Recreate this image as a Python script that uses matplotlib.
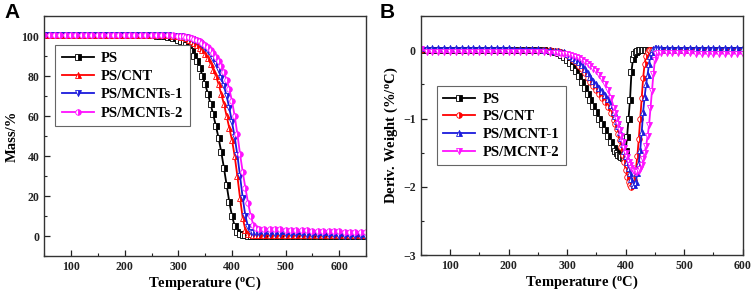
import numpy as np
import matplotlib
matplotlib.use('Agg')
import matplotlib.pyplot as plt
from matplotlib.ticker import MultipleLocator

plt.rcParams['font.family'] = 'Liberation Serif'
plt.rcParams['font.weight'] = 'bold'
plt.rcParams['mathtext.fontset'] = 'custom'
plt.rcParams['mathtext.rm'] = 'Liberation Serif:bold'
plt.rcParams['mathtext.it'] = 'Liberation Serif:bold'
plt.rcParams['mathtext.bf'] = 'Liberation Serif:bold'

# ---- panel A: TGA mass loss ----
temp_a = [50, 60, 70, 80, 90, 100, 110, 120, 130, 140, 150, 160, 170, 180, 190,
          200, 210, 220, 230, 240, 250, 260, 270, 280, 290, 300,
          305, 310, 315, 320, 325, 330, 335, 340, 345, 350, 355, 360, 365, 370,
          375, 380, 385, 390, 395, 400, 405, 410, 415, 420, 425, 430, 435, 440,
          445, 450,
          460, 470, 480, 490, 500, 510, 520, 530, 540, 550, 560, 570, 580, 590,
          600, 610, 620, 630, 640, 650]

mass_ps = [100.4, 100.4, 100.4, 100.4, 100.4, 100.4, 100.4, 100.4, 100.4, 100.4,
           100.4, 100.4, 100.4, 100.4, 100.4, 100.4, 100.4, 100.4, 100.4, 100.4,
           100.3, 100.2, 100.0, 99.7, 99.1, 98.2,
           97.5, 96.6, 95.5, 94.0, 92.3, 90.2, 87.4, 84.0, 80.2, 76.0, 71.2, 66.0,
           60.8, 55.0, 49.0, 42.0, 34.0, 25.5, 17.0, 10.0, 5.0, 2.2, 0.9, 0.4,
           0.3, 0.2, 0.2, 0.1, 0.1, 0.1,
           0.1, 0.1, 0.0, 0.0, 0.0, 0.0, 0.0, 0.0, 0.0, 0.0, 0.0, 0.0, 0.0, 0.0,
           -0.1, -0.1, -0.1, -0.1, -0.1, -0.1]

mass_cnt = [100.4, 100.4, 100.4, 100.4, 100.4, 100.4, 100.4, 100.4, 100.4, 100.4,
            100.4, 100.4, 100.4, 100.4, 100.4, 100.4, 100.4, 100.4, 100.4, 100.4,
            100.4, 100.4, 100.3, 100.3, 100.1, 99.8,
            99.6, 99.3, 98.8, 98.2, 97.4, 96.5, 95.5, 94.2, 92.8, 91.0, 89.0, 86.2,
            83.2, 80.0, 76.0, 71.0, 66.0, 60.0, 54.0, 48.0, 40.0, 30.0, 19.0, 9.0,
            3.0, 1.2, 0.8, 0.6, 0.5, 0.5,
            0.5, 0.5, 0.5, 0.4, 0.4, 0.4, 0.4, 0.4, 0.4, 0.4, 0.4, 0.3, 0.3, 0.3,
            0.3, 0.3, 0.3, 0.3, 0.3, 0.3]

mass_mcnt1 = [100.5, 100.5, 100.5, 100.5, 100.5, 100.5, 100.5, 100.5, 100.5, 100.5,
              100.5, 100.5, 100.5, 100.5, 100.5, 100.5, 100.5, 100.5, 100.5, 100.5,
              100.5, 100.4, 100.4, 100.3, 100.1, 99.9,
              99.8, 99.6, 99.3, 99.0, 98.5, 98.0, 97.3, 96.4, 95.3, 94.0, 92.4, 90.6,
              88.4, 85.8, 82.8, 79.2, 75.0, 70.0, 64.0, 57.0, 49.5, 40.5, 30.0, 19.0,
              10.0, 4.5, 2.2, 1.6, 1.4, 1.3,
              1.2, 1.1, 1.1, 1.0, 1.0, 0.9, 0.9, 0.8, 0.7, 0.7, 0.6, 0.5, 0.4, 0.3,
              0.2, 0.1, 0.0, -0.1, -0.2, -0.3]

mass_mcnt2 = [100.6, 100.6, 100.6, 100.6, 100.6, 100.6, 100.6, 100.6, 100.6, 100.6,
              100.6, 100.6, 100.6, 100.6, 100.6, 100.6, 100.6, 100.6, 100.6, 100.6,
              100.6, 100.6, 100.5, 100.5, 100.4, 100.2,
              100.1, 99.9, 99.7, 99.4, 99.0, 98.6, 98.1, 97.5, 96.7, 95.7, 94.5, 93.1,
              91.5, 89.6, 87.4, 84.8, 81.8, 78.2, 73.5, 67.5, 60.0, 51.0, 41.0, 32.0,
              24.0, 16.5, 10.0, 5.5, 4.0, 3.7,
              3.6, 3.5, 3.4, 3.3, 3.2, 3.1, 3.0, 2.9, 2.8, 2.7, 2.6, 2.5, 2.5, 2.4,
              2.3, 2.2, 2.2, 2.1, 2.0, 2.0]

# ---- panel B: DTG ----
temp_b = [50, 60, 70, 80, 90, 100, 110, 120, 130, 140, 150, 160, 170, 180, 190,
          200, 210, 220, 230, 240, 250, 260, 270, 280,
          285, 290, 295, 300, 305, 310, 315, 320, 325, 330, 335, 340, 345, 350,
          355, 360, 365, 370, 375, 380,
          382.5, 385, 387.5, 390, 392.5, 395, 397.5, 400, 402.5, 405, 407.5, 410,
          412.5, 415, 417.5, 420, 422.5, 425, 427.5, 430, 432.5, 435, 437.5, 440,
          442.5, 445, 447.5, 450, 452.5, 455,
          460, 470, 480, 490, 500, 510, 520, 530, 540, 550, 560, 570, 580, 590, 600]

dtg_ps = [0.01, 0.01, 0.01, 0.01, 0.01, 0.01, 0.01, 0.01, 0.01, 0.01, 0.01, 0.01,
          0.01, 0.01, 0.01, 0.01, 0.01, 0.01, 0.01, 0.0, 0.0, 0.0, -0.01, -0.02,
          -0.04, -0.07, -0.1, -0.14, -0.19, -0.25, -0.31, -0.38, -0.46, -0.55,
          -0.64, -0.73, -0.82, -0.91, -1.0, -1.08, -1.17, -1.26, -1.35, -1.43,
          -1.47, -1.5, -1.53, -1.55, -1.57, -1.58, -1.56, -1.47, -1.27, -1.0,
          -0.73, -0.32, -0.13, -0.05, -0.02, -0.01, 0.0, 0.0, 0.0, 0.0, 0.0,
          0.0, 0.0, 0.0, 0.0, 0.0, 0.0, 0.0, 0.0, 0.0,
          0.0, 0.0, 0.0, 0.0, 0.0, 0.0, 0.0, 0.0, 0.0, 0.0, 0.0, 0.0, 0.0, 0.0, 0.0]

dtg_cnt = [0.01, 0.01, 0.01, 0.01, 0.01, 0.01, 0.01, 0.01, 0.01, 0.01, 0.01, 0.01,
           0.01, 0.01, 0.01, 0.01, 0.01, 0.01, 0.01, 0.0, 0.0, 0.0, 0.0, -0.01,
           -0.01, -0.02, -0.04, -0.07, -0.1, -0.14, -0.18, -0.23, -0.28, -0.34,
           -0.4, -0.46, -0.52, -0.58, -0.64, -0.7, -0.76, -0.83, -0.92, -1.02,
           -1.08, -1.15, -1.23, -1.32, -1.42, -1.53, -1.64, -1.75, -1.85, -1.93,
           -1.98, -2.0, -1.98, -1.9, -1.75, -1.55, -1.3, -1.0, -0.7, -0.4, -0.2,
           -0.08, -0.02, 0.0, 0.0, 0.0, 0.0, 0.0, 0.0, 0.0,
           0.0, 0.0, 0.0, 0.0, 0.0, 0.0, 0.0, 0.0, 0.0, 0.0, 0.0, 0.0, 0.0, 0.0, 0.0]

dtg_mcnt1 = [0.03, 0.03, 0.03, 0.03, 0.03, 0.03, 0.03, 0.03, 0.03, 0.03, 0.03, 0.03,
             0.03, 0.03, 0.03, 0.03, 0.02, 0.02, 0.02, 0.02, 0.02, 0.01, 0.0, -0.01,
             -0.01, -0.02, -0.03, -0.05, -0.08, -0.11, -0.14, -0.18, -0.22, -0.27,
             -0.33, -0.39, -0.45, -0.5, -0.55, -0.6, -0.66, -0.72, -0.8, -0.9,
             -0.96, -1.03, -1.11, -1.2, -1.29, -1.38, -1.47, -1.55, -1.63, -1.72,
             -1.8, -1.88, -1.94, -1.97, -1.93, -1.8, -1.65, -1.46, -1.2, -0.9,
             -0.68, -0.5, -0.36, -0.2, -0.08, -0.02, 0.02, 0.03, 0.03, 0.03,
             0.03, 0.03, 0.03, 0.03, 0.03, 0.03, 0.03, 0.03, 0.03, 0.03, 0.03, 0.03,
             0.03, 0.03, 0.03]

dtg_mcnt2 = [0.02, -0.02, -0.03, -0.03, -0.03, -0.03, -0.03, -0.03, -0.03, -0.03,
             -0.03, -0.03, -0.03, -0.03, -0.03, -0.03, -0.03, -0.03, -0.03, -0.03,
             -0.03, -0.03, -0.04, -0.04,
             -0.04, -0.05, -0.05, -0.06, -0.07, -0.08, -0.1, -0.12, -0.14, -0.17,
             -0.2, -0.23, -0.27, -0.31, -0.36, -0.42, -0.49, -0.58, -0.7, -0.84,
             -0.92, -1.0, -1.08, -1.17, -1.26, -1.35, -1.43, -1.5, -1.57, -1.63,
             -1.68, -1.72, -1.75, -1.77, -1.78, -1.78, -1.77, -1.74, -1.68, -1.6,
             -1.5, -1.4, -1.26, -1.1, -0.85, -0.6, -0.35, -0.15, -0.06, -0.04,
             -0.04, -0.04, -0.04, -0.04, -0.04, -0.04, -0.05, -0.05, -0.05, -0.05,
             -0.05, -0.05, -0.05, -0.05, -0.05]

colors = ['black', '#ff0000', '#1a1adc', '#ff10ff']
labels_a = ['PS', 'PS/CNT', 'PS/MCNTs-1', 'PS/MCNTs-2']
labels_b = ['PS', 'PS/CNT', 'PS/MCNT-1', 'PS/MCNT-2']
markers_a = ['s', '^', 'v', 'o']
markers_b = ['s', 'o', '^', 'v']

fig = plt.figure(figsize=(7.54, 2.97), dpi=100)
ax_a = fig.add_axes([0.0586, 0.138, 0.427, 0.808])
ax_b = fig.add_axes([0.558, 0.141, 0.427, 0.805])

for ys, c, lab, m in zip([mass_ps, mass_cnt, mass_mcnt1, mass_mcnt2], colors, labels_a, markers_a):
    ax_a.plot(temp_a, ys, color=c, lw=1.3, marker=m, ms=4, mew=0.6,
              fillstyle='right', markerfacecoloralt='white', label=lab)

for ys, c, lab, m in zip([dtg_ps, dtg_cnt, dtg_mcnt1, dtg_mcnt2], colors, labels_b, markers_b):
    ax_b.plot(temp_b, ys, color=c, lw=1.3, marker=m, ms=4, mew=0.6,
              fillstyle='right', markerfacecoloralt='white', label=lab)

ax_a.set_xlim(50, 650)
ax_a.set_ylim(-10, 110)
ax_a.xaxis.set_major_locator(MultipleLocator(100))
ax_a.xaxis.set_minor_locator(MultipleLocator(50))
ax_a.yaxis.set_major_locator(MultipleLocator(20))
ax_a.yaxis.set_minor_locator(MultipleLocator(10))
ax_a.set_ylabel('Mass/%', fontsize=10.5, fontweight='bold', labelpad=2)

ax_b.set_xlim(50, 600)
ax_b.set_ylim(-3, 0.5)
ax_b.xaxis.set_major_locator(MultipleLocator(100))
ax_b.xaxis.set_minor_locator(MultipleLocator(50))
ax_b.yaxis.set_major_locator(MultipleLocator(1))
ax_b.yaxis.set_minor_locator(MultipleLocator(0.5))
ax_b.set_ylabel(r'Deriv. Weight (%/$^{\rm o}$C)', fontsize=10.5, fontweight='bold', labelpad=2)

for ax in (ax_a, ax_b):
    ax.set_xlabel(r'Temperature ($^{\rm o}$C)', fontsize=10.5, fontweight='bold', labelpad=1)
    ax.tick_params(which='both', direction='in', labelsize=8.5, colors='#222222')
    ax.tick_params(which='major', length=4, width=0.9)
    ax.tick_params(which='minor', length=2, width=0.8)
    for sp in ax.spines.values():
        sp.set_color('#333333')
        sp.set_linewidth(1.0)

leg_a = ax_a.legend(loc='upper left', bbox_to_anchor=(0.034, 0.879), borderaxespad=0,
                    fontsize=10.5, handlelength=2.2, handletextpad=0.5, labelspacing=0.35,
                    borderpad=0.45, fancybox=False, edgecolor='#666666', framealpha=1)
leg_b = ax_b.legend(loc='upper left', bbox_to_anchor=(0.05, 0.707), borderaxespad=0,
                    fontsize=10.5, handlelength=2.2, handletextpad=0.5, labelspacing=0.3,
                    borderpad=0.45, fancybox=False, edgecolor='#666666', framealpha=1)
for leg in (leg_a, leg_b):
    leg.get_frame().set_linewidth(0.8)

fig.text(0.006, 0.99, 'A', family='Liberation Sans', fontweight='bold', fontsize=15, va='top')
fig.text(0.503, 0.99, 'B', family='Liberation Sans', fontweight='bold', fontsize=15, va='top')

fig.savefig('out.png', dpi=100)
